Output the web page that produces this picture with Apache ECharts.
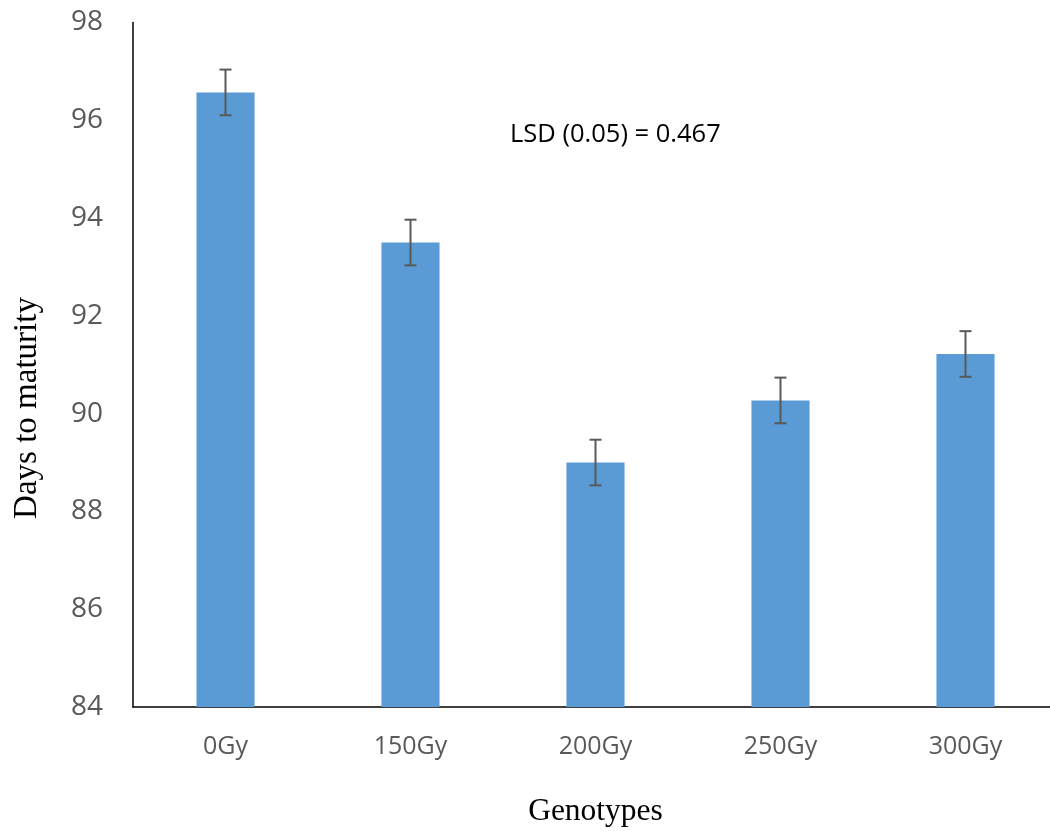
<!DOCTYPE html>
<html>
<head>
<meta charset="utf-8">
<script src="https://cdn.jsdelivr.net/npm/echarts@6/dist/echarts.min.js"></script>
<style>
  html, body { margin: 0; padding: 0; background: #fff; }
  #chart { width: 1050px; height: 831px; }
</style>
</head>
<body>
<div id="chart"></div>
<script>
// Days to maturity per irradiation dose
const categories = ['0Gy', '150Gy', '200Gy', '250Gy', '300Gy'];
const meanDays = [96.57, 93.50, 89.00, 90.27, 91.22];
const errorHalf = [0.467, 0.467, 0.467, 0.467, 0.467];
const yTicks = { min: 84, max: 98, interval: 2 };

const chart = echarts.init(document.getElementById('chart'));

const errorData = meanDays.map((v, i) => [i, v - errorHalf[i], v + errorHalf[i]]);

chart.setOption({
  animation: false,
  grid: {
    left: 133, top: 22.5, width: 925, height: 684.5,
    containLabel: false, outerBoundsMode: 'none'
  },
  xAxis: {
    type: 'category',
    data: categories,
    axisLine: { lineStyle: { color: '#000', width: 1.5 } },
    axisTick: { show: false },
    axisLabel: { color: '#595959', fontSize: 25, fontFamily: 'Open Sans', margin: 27 },
    name: 'Genotypes',
    nameLocation: 'middle',
    nameGap: 89,
    nameTextStyle: { color: '#000', fontSize: 31.5, fontFamily: 'Liberation Serif' }
  },
  yAxis: {
    type: 'value',
    min: yTicks.min,
    max: yTicks.max,
    interval: yTicks.interval,
    axisLine: { show: true, lineStyle: { color: '#000', width: 1.5 } },
    axisTick: { show: false },
    splitLine: { show: false },
    axisLabel: { color: '#595959', fontSize: 28, fontFamily: 'Open Sans', margin: 30 }
  },
  series: [
    {
      type: 'bar',
      data: meanDays,
      barWidth: '31.4%',
      itemStyle: { color: '#5B9BD5' }
    },
    {
      type: 'custom',
      data: errorData,
      z: 10,
      renderItem: function (params, api) {
        const x = api.value(0);
        const lo = api.coord([x, api.value(1)]);
        const hi = api.coord([x, api.value(2)]);
        const cap = 6;
        const style = { stroke: '#595959', lineWidth: 2 };
        return {
          type: 'group',
          children: [
            { type: 'line', shape: { x1: hi[0], y1: hi[1], x2: lo[0], y2: lo[1] }, style },
            { type: 'line', shape: { x1: hi[0] - cap, y1: hi[1], x2: hi[0] + cap, y2: hi[1] }, style },
            { type: 'line', shape: { x1: lo[0] - cap, y1: lo[1], x2: lo[0] + cap, y2: lo[1] }, style }
          ]
        };
      }
    }
  ],
  graphic: [
    {
      type: 'text',
      x: 510,
      y: 135,
      style: {
        text: 'LSD (0.05) = 0.467', fontSize: 25.5, fontFamily: 'Open Sans', fill: '#000',
        align: 'left', verticalAlign: 'middle'
      }
    },
    {
      type: 'text',
      x: 27,
      y: 408,
      rotation: Math.PI / 2,
      style: {
        text: 'Days to maturity', fontSize: 33, fontFamily: 'Liberation Serif', fill: '#000',
        align: 'center', verticalAlign: 'middle'
      }
    }
  ]
});
</script>
</body>
</html>
